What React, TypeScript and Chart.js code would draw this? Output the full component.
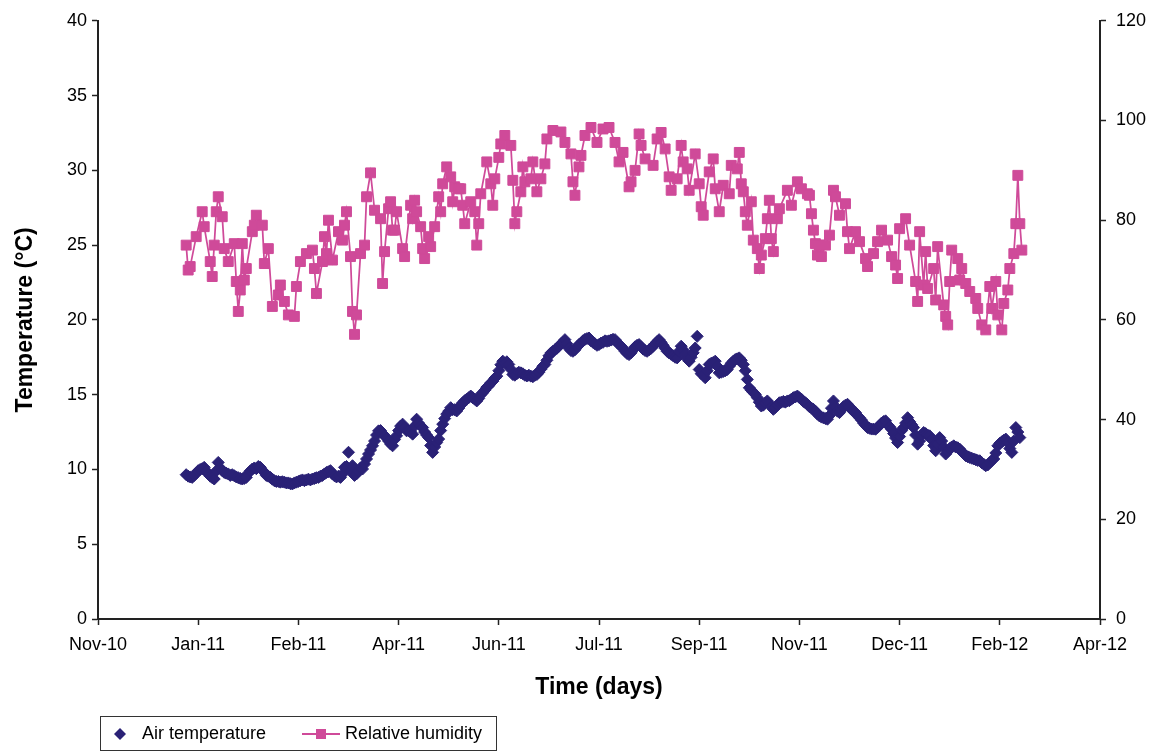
import React, { useEffect, useRef } from 'react';
import { Chart, registerables } from 'chart.js';

Chart.register(...registerables);

// Excel serial of 1 Jan 2011 (first day of the record)
const START_SERIAL = 40544;

// x axis (Excel date serials), left axis (°C), right axis (%)
const X_MIN = 40500;
const X_MAX = 41000;
const X_STEP = 50;
const MONTHS = ['Jan', 'Feb', 'Mar', 'Apr', 'May', 'Jun', 'Jul', 'Aug', 'Sep', 'Oct', 'Nov', 'Dec'];
const TEMP_MIN = 0;
const TEMP_MAX = 40;
const TEMP_STEP = 5;
const RH_MIN = 0;
const RH_MAX = 120;
const RH_STEP = 20;

const SERIES_NAMES = ['Air temperature', 'Relative humidity'];

// Air temperature, one daily value (°C) from 1 Jan 2011 (day 0) onwards
const temperatureValues = [
  9.65, 9.55, 9.5, 9.47, 9.6, 9.75, 9.92, 10.0, 10.05, 10.14,
  9.9, 9.7, 9.55, 9.45, 9.36, 9.9, 10.47, 10.1, 9.92, 9.8,
  9.75, 9.7, 9.6, 9.65, 9.58, 9.5, 9.45, 9.4, 9.36, 9.4,
  9.47, 9.75, 9.9, 10.03, 10.1, 10.05, 10.2, 10.14, 9.95, 9.8,
  9.6, 9.55, 9.47, 9.35, 9.25, 9.2, 9.2, 9.15, 9.18, 9.15,
  9.1, 9.1, 9.05, 9.03, 9.1, 9.15, 9.2, 9.25, 9.3, 9.25,
  9.3, 9.35, 9.3, 9.36, 9.4, 9.45, 9.47, 9.55, 9.6, 9.7,
  9.8, 9.85, 9.92, 9.7, 9.58, 9.5, 9.55, 9.47, 9.7, 10.14,
  10.2, 11.15, 9.9, 10.25, 9.6, 9.7, 9.9, 10.1, 10.03, 10.36,
  10.7, 11.03, 11.3, 11.58, 11.9, 12.3, 12.58, 12.6, 12.4, 12.25,
  12.1, 11.9, 11.7, 11.58, 12.0, 12.25, 12.6, 12.9, 13.03, 12.8,
  12.58, 12.6, 12.5, 12.36, 12.9, 13.36, 13.1, 12.9, 12.8, 12.5,
  12.3, 12.13, 11.6, 11.14, 11.5, 11.8, 12.03, 12.6, 13.03, 13.4,
  13.7, 13.9, 14.13, 14.0, 14.0, 13.91, 14.1, 14.3, 14.46, 14.6,
  14.7, 14.8, 14.91, 14.8, 14.7, 14.58, 14.75, 15.0, 15.13, 15.3,
  15.5, 15.6, 15.79, 15.9, 16.1, 16.24, 16.6, 17.0, 17.24, 17.1,
  17.2, 17.02, 16.7, 16.35, 16.3, 16.4, 16.5, 16.46, 16.4, 16.3,
  16.25, 16.3, 16.24, 16.2, 16.3, 16.35, 16.5, 16.7, 16.9, 17.02,
  17.3, 17.6, 17.79, 17.9, 18.0, 18.1, 18.24, 18.4, 18.5, 18.68,
  18.4, 18.1, 17.95, 17.9, 18.0, 18.2, 18.35, 18.45, 18.6, 18.7,
  18.75, 18.79, 18.6, 18.5, 18.4, 18.3, 18.35, 18.45, 18.5, 18.6,
  18.57, 18.6, 18.65, 18.7, 18.68, 18.5, 18.35, 18.24, 18.1, 17.9,
  17.75, 17.68, 17.8, 18.0, 18.2, 18.3, 18.35, 18.2, 18.05, 17.95,
  17.9, 18.0, 18.1, 18.24, 18.4, 18.55, 18.68, 18.5, 18.3, 18.1,
  17.9, 17.79, 17.7, 17.6, 17.5, 17.46, 17.9, 18.24, 18.0, 17.7,
  17.4, 17.24, 17.5, 17.8, 18.12, 18.9, 16.68, 16.4, 16.3, 16.13,
  16.6, 17.02, 17.1, 17.15, 17.24, 16.9, 16.46, 16.5, 16.55, 16.6,
  16.68, 16.9, 17.1, 17.24, 17.35, 17.4, 17.46, 17.3, 17.02, 16.6,
  16.02, 15.46, 15.3, 15.15, 15.02, 14.8, 14.5, 14.24, 14.3, 14.45,
  14.58, 14.4, 14.2, 14.02, 14.15, 14.3, 14.46, 14.5, 14.55, 14.5,
  14.58, 14.6, 14.7, 14.8, 14.85, 14.91, 14.8, 14.7, 14.55, 14.46,
  14.35, 14.2, 14.1, 14.02, 13.9, 13.7, 13.58, 13.5, 13.45, 13.4,
  13.36, 13.6, 14.1, 14.58, 14.2, 13.9, 13.8, 14.0, 14.2, 14.3,
  14.36, 14.2, 14.0, 13.91, 13.8, 13.6, 13.46, 13.3, 13.1, 12.95,
  12.8, 12.75, 12.7, 12.7, 12.69, 12.8, 12.95, 13.1, 13.2, 13.25,
  13.0, 12.85, 12.69, 12.4, 12.1, 11.8, 12.2, 12.6, 12.8, 13.1,
  13.46, 13.2, 13.0, 12.8, 12.3, 11.69, 11.9, 12.3, 12.47, 12.4,
  12.3, 12.25, 12.0, 11.6, 11.25, 11.7, 12.13, 11.9, 11.5, 11.03,
  11.2, 11.4, 11.5, 11.58, 11.5, 11.45, 11.36, 11.2, 11.05, 10.92,
  10.85, 10.8, 10.75, 10.7, 10.65, 10.6, 10.58, 10.45, 10.35, 10.25,
  10.3, 10.45, 10.6, 10.7, 11.1, 11.58, 11.75, 11.85, 11.95, 12.03,
  11.8, 11.4, 11.14, 11.9, 12.8, 12.5, 12.13,
];

// Relative humidity: day offset from 1 Jan 2011, value in %
const humidityDays = [
  0, 1, 2, 5, 8, 9, 12, 13, 14, 15,
  16, 18, 19, 21, 24, 25, 26, 27, 28, 29,
  30, 33, 34, 35, 38, 39, 41, 43, 46, 47,
  49, 51, 54, 55, 57, 60, 63, 64, 65, 68,
  69, 70, 71, 73, 76, 78, 79, 80, 82, 83,
  84, 85, 87, 89, 90, 92, 94, 97, 98, 99,
  101, 102, 103, 104, 105, 108, 109, 112, 113, 114,
  115, 117, 118, 119, 121, 122, 124, 126, 127, 128,
  130, 132, 133, 134, 136, 137, 138, 139, 142, 144,
  145, 146, 147, 150, 152, 153, 154, 156, 157, 159,
  162, 163, 164, 165, 167, 168, 169, 172, 173, 175,
  177, 179, 180, 183, 187, 189, 192, 193, 194, 196,
  197, 199, 202, 205, 208, 211, 214, 216, 218, 221,
  222, 224, 226, 227, 229, 233, 235, 237, 239, 241,
  242, 245, 247, 248, 250, 251, 254, 256, 257, 258,
  261, 263, 264, 266, 268, 271, 272, 275, 276, 277,
  278, 279, 280, 282, 283, 285, 286, 287, 289, 290,
  291, 292, 293, 295, 296, 300, 302, 305, 307, 310,
  311, 312, 313, 314, 315, 316, 317, 319, 321, 323,
  324, 326, 329, 330, 331, 334, 336, 339, 340, 343,
  345, 347, 350, 352, 354, 355, 356, 359, 361, 364,
  365, 366, 368, 369, 370, 373, 374, 375, 378, 379,
  380, 381, 382, 385, 386, 387, 389, 391, 394, 395,
  397, 399, 401, 402, 404, 405, 407, 408, 410, 411,
  413, 414, 415, 416, 417,
];
const humidityValues = [
  75.0, 70, 70.7, 76.7, 81.7, 78.7, 71.7, 68.7, 75, 81.7,
  84.7, 80.7, 74.3, 71.7, 75.3, 67.7, 61.7, 66, 75.3, 68,
  70.3, 77.7, 79, 81, 79, 71.3, 74.3, 62.7, 65, 67,
  63.7, 61, 60.7, 66.7, 71.7, 73.3, 74, 70.3, 65.3, 71.7,
  76.7, 73.3, 80, 72, 77.7, 76, 79, 81.7, 72.7, 61.7,
  57.1, 61, 73.3, 75, 84.7, 89.5, 82, 80.3, 67.3, 73.7,
  82.3, 83.7, 78, 78, 81.7, 74.3, 72.7, 83, 80.3, 84,
  81.7, 78.7, 74.3, 72.3, 76.7, 74.7, 78.7, 84.7, 81.7, 87.3,
  90.7, 88.7, 83.7, 86.7, 86.3, 86.3, 83, 79.3, 83.7, 81.7,
  75, 79.3, 85.3, 91.7, 87.3, 83, 88.3, 92.6, 95.3, 97,
  95, 88, 79.3, 81.7, 85.7, 90.7, 87.7, 88.3, 91.7, 85.7,
  88.3, 91.3, 96.3, 98, 97.7, 95.6, 93.3, 87.7, 85, 90.7,
  93, 97, 98.6, 95.6, 98.3, 98.6, 95.6, 91.7, 93.6, 86.7,
  87.7, 90, 97.3, 95, 92.3, 91, 96.3, 97.6, 94.3, 88.7,
  86, 88.3, 95, 91.7, 90.3, 86, 93.3, 87.3, 82.7, 81,
  89.7, 92.3, 86.3, 81.7, 87, 85.3, 91, 90.3, 93.6, 87.3,
  85.7, 81.7, 79, 83.7, 76, 74.3, 70.3, 73, 76.3, 80.3,
  84, 76.3, 73.7, 80.3, 82.3, 86, 83, 87.7, 86.3, 85.3,
  85, 81.3, 78, 75.3, 73, 75, 72.7, 75, 77, 86,
  84.7, 81, 83.3, 77.7, 74.3, 77.7, 75.7, 72.3, 70.7, 73.3,
  75.7, 78, 76, 72.7, 71, 68.3, 78.3, 80.3, 75, 67.7,
  63.7, 77.7, 67, 73.7, 66.3, 70.3, 64, 74.7, 63, 60.7,
  59, 67.7, 74, 72.3, 68, 70.3, 67.3, 65.7, 64.3, 62.3,
  59, 58, 66.7, 62.3, 67.7, 61, 58, 63.3, 66, 70.3,
  73.3, 79.3, 89, 79.3, 74,
];

const TEMP_COLOR = '#2A2176';
const RH_COLOR = '#CF4A99';
const AXIS_COLOR = '#222222';
const FONT_FAMILY = '"Liberation Sans", Arial, Helvetica, sans-serif';

function serialLabel(v: number): string {
  const d = new Date(Date.UTC(1899, 11, 30) + v * 86400000);
  return MONTHS[d.getUTCMonth()] + '-' + String(d.getUTCFullYear()).slice(2);
}

const boxLegend = {
  id: 'boxLegend',
  afterDraw(chart: any) {
    const ctx: CanvasRenderingContext2D = chart.ctx;
    const names = chart.data.datasets.map((d: any) => d.label);
    ctx.save();
    ctx.strokeStyle = '#333333';
    ctx.lineWidth = 1;
    ctx.strokeRect(100.5, 716.5, 396, 34);
    const cy = 734;
    // diamond marker
    ctx.fillStyle = TEMP_COLOR;
    ctx.beginPath();
    ctx.moveTo(120 - 6, cy);
    ctx.lineTo(120, cy - 6);
    ctx.lineTo(120 + 6, cy);
    ctx.lineTo(120, cy + 6);
    ctx.closePath();
    ctx.fill();
    // line + square marker
    ctx.strokeStyle = RH_COLOR;
    ctx.lineWidth = 2;
    ctx.beginPath();
    ctx.moveTo(302, cy);
    ctx.lineTo(340, cy);
    ctx.stroke();
    ctx.fillStyle = RH_COLOR;
    ctx.fillRect(316, cy - 5, 10, 10);
    // texts
    ctx.fillStyle = '#000000';
    ctx.font = '18px ' + FONT_FAMILY;
    ctx.textBaseline = 'middle';
    ctx.textAlign = 'left';
    ctx.fillText(names[0], 142, cy);
    ctx.fillText(names[1], 345, cy);
    ctx.restore();
  },
};

export default function App() {
  const canvasRef = useRef<HTMLCanvasElement | null>(null);

  useEffect(() => {
    if (!canvasRef.current) return;
    Chart.defaults.font.family = FONT_FAMILY;
    Chart.defaults.color = '#000000';

    // daily record: the i-th value belongs to day i after 1 Jan 2011
    const tempData = temperatureValues.map((v, day) => ({ x: START_SERIAL + day, y: v }));
    const rhData = humidityDays.map((d, i) => ({ x: START_SERIAL + d, y: humidityValues[i] }));

    const tickFont = { size: 18, family: FONT_FAMILY };
    const titleFont = { size: 23, weight: 'bold' as const, family: FONT_FAMILY };
    const gridOpts = {
      display: true,
      drawOnChartArea: false,
      drawTicks: true,
      tickLength: 6,
      tickColor: AXIS_COLOR,
      tickWidth: 1.5,
    };
    const borderOpts = { display: true, color: AXIS_COLOR, width: 2 };

    const chart = new Chart(canvasRef.current, {
      type: 'scatter',
      data: {
        datasets: [
          {
            label: SERIES_NAMES[0],
            data: tempData,
            yAxisID: 'y',
            showLine: false,
            pointStyle: 'rectRot',
            pointRadius: 6,
            pointBorderWidth: 1,
            backgroundColor: TEMP_COLOR,
            borderColor: TEMP_COLOR,
          },
          {
            label: SERIES_NAMES[1],
            data: rhData,
            yAxisID: 'y1',
            showLine: true,
            borderWidth: 1.75,
            pointStyle: 'rect',
            pointRadius: 7,
            pointBorderWidth: 1,
            backgroundColor: RH_COLOR,
            borderColor: RH_COLOR,
            pointBackgroundColor: RH_COLOR,
            pointBorderColor: RH_COLOR,
          },
        ],
      },
      options: {
        responsive: false,
        animation: false,
        devicePixelRatio: 1,
        layout: { padding: { top: 18, left: 0, right: 0, bottom: 0 } },
        plugins: {
          legend: { display: false },
          tooltip: { enabled: false },
        },
        scales: {
          x: {
            type: 'linear',
            position: 'bottom',
            min: X_MIN,
            max: X_MAX,
            grid: gridOpts,
            border: borderOpts,
            ticks: {
              stepSize: X_STEP,
              autoSkip: false,
              maxRotation: 0,
              padding: 9,
              font: tickFont,
              color: '#000000',
              callback: (v: any) => serialLabel(Number(v)),
            },
            title: {
              display: true,
              text: 'Time (days)',
              font: titleFont,
              color: '#000000',
              padding: { top: 0, bottom: 50 },
            },
            afterFit: (scale: any) => {
              scale.height = 132;
            },
          },
          y: {
            type: 'linear',
            position: 'left',
            min: TEMP_MIN,
            max: TEMP_MAX,
            grid: gridOpts,
            border: borderOpts,
            ticks: { stepSize: TEMP_STEP, padding: 5, font: tickFont, color: '#000000' },
            title: {
              display: true,
              text: 'Temperature (°C)',
              font: titleFont,
              color: '#000000',
              padding: { top: 12, bottom: 0 },
            },
            afterFit: (scale: any) => {
              scale.width = 98;
            },
          },
          y1: {
            type: 'linear',
            position: 'right',
            min: RH_MIN,
            max: RH_MAX,
            grid: gridOpts,
            border: borderOpts,
            ticks: { stepSize: RH_STEP, padding: 10, font: tickFont, color: '#000000' },
            afterFit: (scale: any) => {
              scale.width = 54;
            },
          },
        },
      },
      plugins: [boxLegend],
    } as any);

    return () => chart.destroy();
  }, []);

  return (
    <div style={{ position: 'absolute', left: 0, top: 0, width: 1154, height: 751, background: '#ffffff' }}>
      <canvas ref={canvasRef} width={1154} height={751} style={{ display: 'block' }} />
    </div>
  );
}
